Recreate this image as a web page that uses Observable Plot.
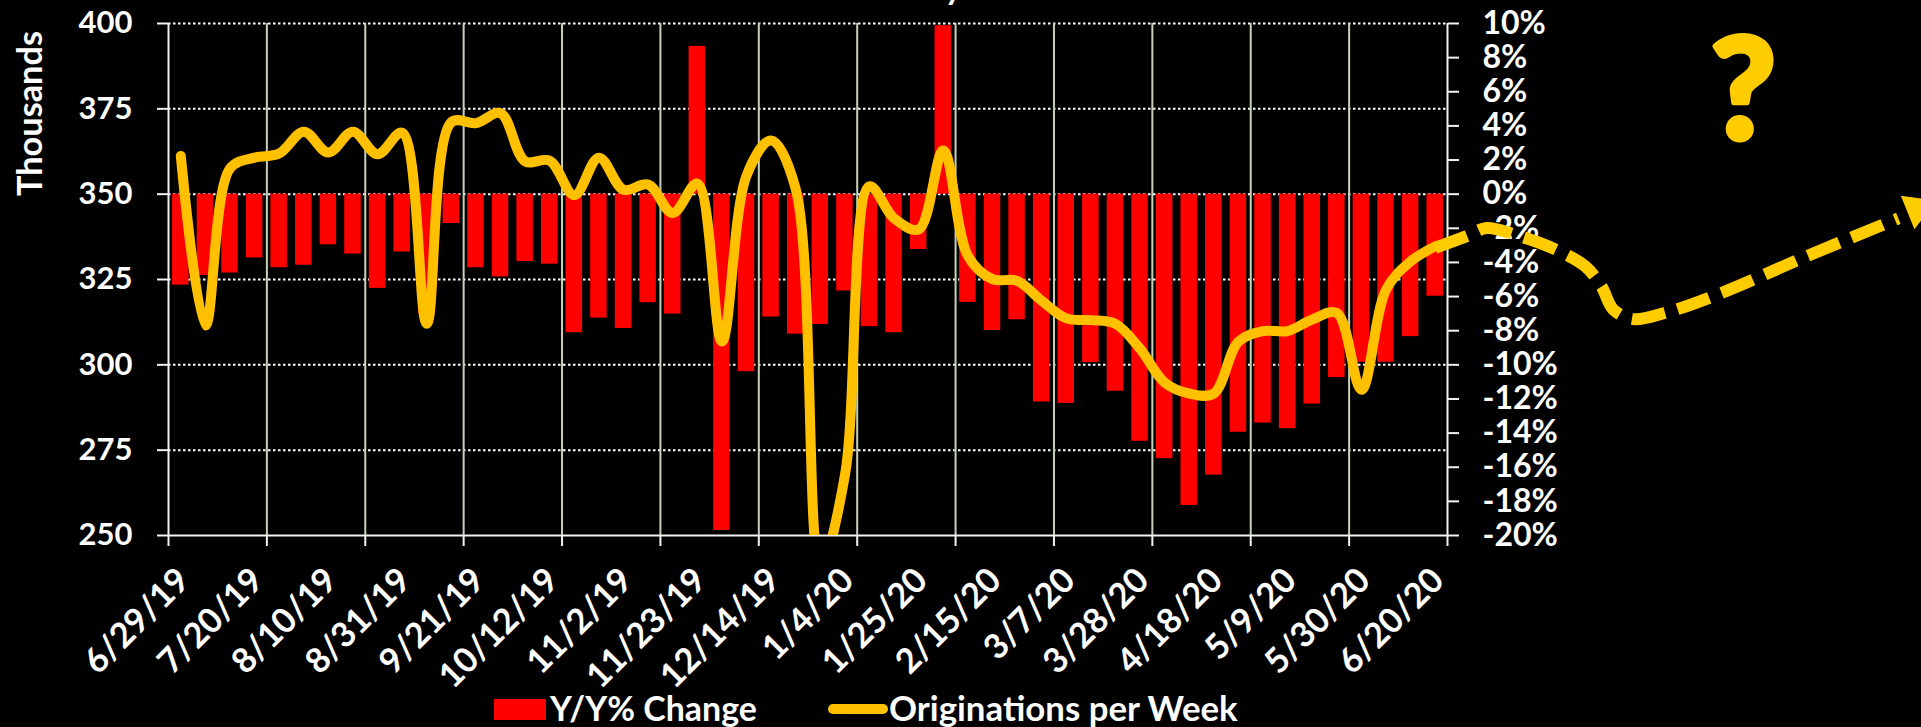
<!DOCTYPE html>
<html>
<head>
<meta charset="utf-8">
<script src="https://cdn.jsdelivr.net/npm/d3@7"></script>
<script src="https://cdn.jsdelivr.net/npm/@observablehq/plot@0.6"></script>
<style>
  html, body { margin: 0; padding: 0; background: #000; overflow: hidden; }
  body { width: 1921px; height: 727px; position: relative; font-family: Lato, sans-serif; font-weight: 700; color: #fff; }
  #chart svg { display: block; }
  .lg { position: absolute; top: 688px; font-size: 34.8px; line-height: 40px; white-space: nowrap; }
  .sw { position: absolute; }
</style>
</head>
<body>
<div id="chart"></div>
<div class="sw" style="left:494px;top:699px;width:52px;height:21px;background:#ff0000"></div>
<div class="lg" style="left:550px;font-size:33.9px">Y/Y% Change</div>
<div class="sw" style="left:828px;top:704px;width:60px;height:10px;border-radius:5px;background:#ffc000"></div>
<div class="lg" style="left:889px">Originations per Week</div>
<script>
const tickLabels = ["6/29/19","7/20/19","8/10/19","8/31/19","9/21/19","10/12/19","11/2/19","11/23/19","12/14/19","1/4/20","1/25/20","2/15/20","3/7/20","3/28/20","4/18/20","5/9/20","5/30/20","6/20/20"];
const yoyChange = [-5.33,-4.77,-4.62,-3.74,-4.31,-4.16,-2.97,-3.51,-5.52,-3.39,-7,-1.72,-4.31,-4.85,-3.95,-4.1,-8.12,-7.26,-7.87,-6.36,-7.03,8.66,-19.7,-10.4,-7.2,-8.2,-7.64,-5.67,-7.76,-8.12,-3.24,9.87,-6.34,-7.99,-7.36,-12.18,-12.26,-9.87,-11.55,-14.48,-15.5,-18.24,-16.46,-13.95,-13.41,-13.74,-12.3,-10.75,-9.85,-9.85,-8.35,-5.98];
const originations = [361.2,311.5,357.5,360.7,361.9,368.3,362.2,368.3,361.7,368,312,371.1,370.8,373.7,359.6,359.8,349.7,360.7,351.3,352.8,344.5,353.1,306.8,355.4,365.7,351.5,241,267.6,352.3,342.9,339.7,362.8,331.9,325.1,324.6,318.8,313.6,313.1,312,304.7,294.8,291.6,291.6,306.8,309.9,309.9,313.3,315.2,292.7,322,330.3,334.7];
const outlookWeek = [51,52.28,53.09,54.21,55.98,57.11,57.76,58.24,59.05,60.33,62.59,66.13,69.83];
const outlookValue = [334.3,337.7,340.1,338.2,333.5,328.8,323,316.2,313.4,315.2,320.9,331.9,342.9];
const arrowTip = [{week: 70.6, value: 345.8}];
const questionMark = [{week: 63.52, value: 379.5, text: "?"}];
const titleTail = [{week: 31.4, value: 406.9, text: "y"}];
const leftTicks = [250,275,300,325,350,375,400];
const rightPct = [10,8,6,4,2,0,-2,-4,-6,-8,-10,-12,-14,-16,-18,-20];

const weeks = yoyChange.map((_, i) => i);
const pctToY = p => 350 + p * 5;
const gridWeeks = d3.range(0, 14).map(k => k * 4 - 0.5);
const labelWeeks = tickLabels.map((_, k) => k * 3);
const font = {fontFamily: "Lato, sans-serif", fontWeight: 700, fontSize: 32};

const chart = Plot.plot({
  width: 1921, height: 690,
  marginLeft: 168, marginRight: 474, marginTop: 23, marginBottom: 155,
  style: {background: "#000", color: "#fff", fontFamily: "Lato, sans-serif", overflow: "visible"},
  x: {type: "linear", domain: [-0.5, 51.5]},
  y: {domain: [250, 400]},
  marks: [
    Plot.ruleY(leftTicks.slice(1), {stroke: "#fff", strokeWidth: 2, strokeDasharray: "2.5 2.5"}),
    Plot.ruleX(gridWeeks.slice(1, -1), {stroke: "#c6d2b8", strokeWidth: 2}),
    Plot.ruleX([gridWeeks[0], gridWeeks[13]], {stroke: "#f2f2f2", strokeWidth: 2}),
    Plot.rectY(weeks, {x1: i => i - 0.335, x2: i => i + 0.335, y1: () => 350, y2: i => pctToY(yoyChange[i]), fill: "#ff0000", inset: 0}),
    Plot.ruleY([250], {stroke: "#f2f2f2", strokeWidth: 2}),
    Plot.axisX({ticks: gridWeeks, tickSize: 11, tickFormat: () => "", label: null, stroke: "#f2f2f2", strokeWidth: 2}),
    Plot.axisX({ticks: labelWeeks, tickSize: 0, tickPadding: 39, dx: 3, tickRotate: -45, tickFormat: d => tickLabels[d / 3], label: null, ...font, fontSize: 34.5, fill: "#fff"}),
    Plot.axisY({ticks: leftTicks, tickSize: 11, tickPadding: 25, anchor: "left", label: null, ...font, fontSize: 31, fill: "#fff", stroke: "#f2f2f2", strokeWidth: 2}),
    Plot.axisY({ticks: rightPct.map(pctToY), tickSize: 11, tickPadding: 24, anchor: "right", label: null, tickFormat: d => `${(d - 350) / 5}%`, ...font, fill: "#fff", stroke: "#f2f2f2", strokeWidth: 2}),
    Plot.text(["Thousands"], {frameAnchor: "top-left", dx: -151, dy: 90, rotate: -90, textAnchor: "middle", ...font, fontSize: 34.3, fill: "#fff"}),
    Plot.line(weeks, {x: i => i, y: i => originations[i], curve: "catmull-rom", stroke: "#ffc000", strokeWidth: 10, strokeLinecap: "round", strokeLinejoin: "round", clip: "frame"}),
    Plot.line(outlookWeek.map((w, i) => ({w, v: outlookValue[i]})), {x: "w", y: "v", curve: "catmull-rom", stroke: "#ffcc00", strokeWidth: 12, strokeDasharray: "34 13", strokeLinecap: "butt", clip: false}),
    Plot.dot(arrowTip, {x: "week", y: "value", symbol: "triangle", r: 13.4, fill: "#ffcc00", stroke: "none", rotate: 68}),
    Plot.text(questionMark, {x: "week", y: "value", text: "text", fill: "#ffcc00", stroke: "#ffcc00", strokeWidth: 5, fontFamily: "Lato, sans-serif", fontWeight: 900, fontSize: 142, lineAnchor: "middle"}),
    Plot.text(titleTail, {x: "week", y: "value", text: "text", lineAnchor: "bottom", ...font, fill: "#fff"})
  ]
});
document.getElementById("chart").appendChild(chart);
</script>
</body>
</html>
